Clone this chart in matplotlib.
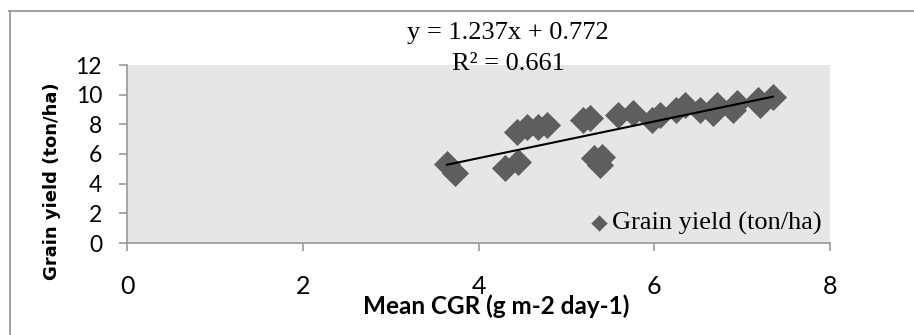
import matplotlib
matplotlib.use("Agg")
import matplotlib.pyplot as plt
import numpy as np
from matplotlib.lines import Line2D

# ---- data ----
cgr = [3.64, 3.73, 4.30, 4.45, 4.44, 4.55, 4.68, 4.78, 5.19, 5.27, 5.31, 5.40, 5.38,
       5.59, 5.76, 5.97, 6.06, 6.25, 6.35, 6.52, 6.67, 6.71, 6.90, 6.94, 7.18, 7.20, 7.35]
grain_yield = [5.33, 4.70, 5.03, 5.48, 7.50, 7.84, 7.84, 7.96, 8.29, 8.40, 5.71, 5.82, 5.26,
               8.63, 8.74, 8.29, 8.63, 8.97, 9.30, 8.97, 8.74, 9.30, 8.97, 9.42, 9.64, 9.30, 9.86]
slope = 1.237
intercept = 0.772
r_squared = 0.661
x_ticks = [0, 2, 4, 6, 8]
y_ticks = [0, 2, 4, 6, 8, 10, 12]
series_label = "Grain yield (ton/ha)"
x_label = "Mean CGR (g m-2 day-1)"
y_label = "Grain yield (ton/ha)"

W, H = 914, 335
fig = plt.figure(figsize=(W / 100, H / 100), dpi=100)
fig.patch.set_facecolor("white")

# outer chart border (top and left visible)
fig.add_artist(Line2D([9 / W, 1.0], [1 - 10.5 / H, 1 - 10.5 / H], color="#999999", lw=1.3))
fig.add_artist(Line2D([9.5 / W, 9.5 / W], [0, 1 - 10.5 / H], color="#999999", lw=1.3))

L, R, T, B = 127, 830, 65, 243
ax = fig.add_axes([L / W, 1 - B / H, (R - L) / W, (B - T) / H])
ax.set_facecolor("#e6e6e6")

ax.scatter(cgr, grain_yield, marker="D", s=190, color="#5e5e5e", linewidths=0,
           label=series_label, zorder=2)
xs = np.array([min(cgr), max(cgr)])
ax.plot(xs, slope * xs + intercept, color="black", lw=1.5, zorder=3)

ax.set_xlim(0, 8)
ax.set_ylim(0, 12)
ax.set_xticks(x_ticks)
ax.set_yticks(y_ticks)
for s in ["top", "right"]:
    ax.spines[s].set_visible(False)
for s in ["left", "bottom"]:
    ax.spines[s].set_color("#999999")
    ax.spines[s].set_linewidth(1.2)
ax.tick_params(axis="both", direction="out", length=6, width=1.2, color="#999999")
ax.tick_params(axis="y", pad=12, labelsize=16.5)
ax.tick_params(axis="x", pad=17, labelsize=18)
for lab in ax.get_xticklabels() + ax.get_yticklabels():
    lab.set_family("Lato")

leg = ax.legend(loc="lower right", bbox_to_anchor=(1.0, 0.0), frameon=False,
                prop={"family": "Liberation Serif", "size": 19}, markerscale=0.6,
                handletextpad=0.0, handlelength=1.0, borderaxespad=0.15,
                borderpad=0.15)

fig.text(508 / W, 1 - 33 / H, f"y = {slope}x + {intercept}", ha="center", va="center",
         family="Liberation Serif", fontsize=19)
fig.text(508 / W, 1 - 64 / H, f"R² = {r_squared}", ha="center", va="center",
         family="Liberation Serif", fontsize=19)

fig.text(496 / W, 1 - 306 / H, x_label, ha="center", va="center",
         family="Lato", fontweight="bold", fontsize=17.5)
fig.text(52 / W, 1 - 181 / H, y_label, ha="center", va="center", rotation=90,
         family="DejaVu Sans", fontweight="bold", fontsize=13)

fig.savefig("out.png", dpi=100)
